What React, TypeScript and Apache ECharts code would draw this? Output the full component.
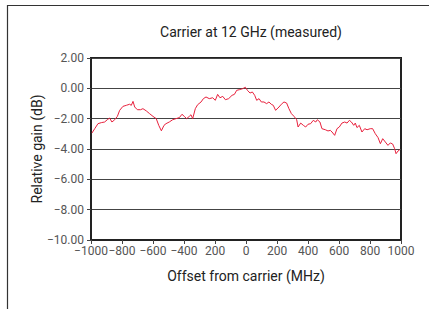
import React, { useEffect, useRef } from "react";
import * as echarts from "echarts";

const offsetsMHz = [
  -994, -976, -955, -933, -912, -895, -880, -865, -847, -830, -815, -794, -772, -751, -740, -729, -718, -701, -680, -665,
  -643, -622, -600, -579, -563, -546, -529, -516, -495, -473, -452, -430, -413, -398, -383, -366, -355, -344, -327, -312,
  -290, -275, -258, -237, -215, -198, -183, -168, -150, -133, -112, -90, -75, -60, -43, -21, -4, 9, 26, 41,
  56, 69, 84, 99, 116, 133, 148, 163, 176, 191, 213, 228, 245, 262, 277, 293, 310, 327, 336, 353,
  370, 385, 400, 417, 434, 450, 460, 477, 490, 512, 529, 544, 555, 572, 587, 602, 619, 637, 652, 667,
  680, 695, 705, 716, 731, 748, 766, 781, 802, 817, 834, 852, 867, 882, 899, 916, 931, 946, 959, 968,
  981, 992,
];

const gainDb = [
  -2.95, -2.66, -2.33, -2.26, -2.22, -2.07, -1.96, -2.22, -2.07, -1.85, -1.45, -1.19, -1.12, -1.05, -1.12, -0.86, -1.23, -1.41, -1.41, -1.34,
  -1.49, -1.67, -1.85, -2.0, -2.44, -2.8, -2.44, -2.33, -2.22, -2.07, -2.0, -1.93, -1.71, -1.85, -2.0, -1.85, -1.74, -2.0, -1.34, -1.08,
  -0.9, -0.68, -0.57, -0.68, -0.62, -0.79, -0.4, -0.62, -0.53, -0.75, -0.68, -0.46, -0.4, -0.13, -0.09, -0.02, 0.07, -0.13, -0.31, -0.24,
  -0.46, -0.79, -0.68, -0.9, -0.9, -1.01, -0.9, -1.05, -1.12, -1.45, -1.23, -1.05, -0.9, -0.97, -1.34, -1.67, -1.85, -2.07, -2.55, -2.29,
  -2.44, -2.55, -2.37, -2.33, -2.11, -2.22, -2.07, -2.22, -2.66, -2.73, -2.81, -2.77, -2.88, -3.1, -2.66, -2.55, -2.29, -2.22, -2.29, -2.11,
  -2.22, -2.44, -2.29, -2.59, -2.44, -2.88, -2.66, -2.73, -2.66, -2.66, -2.99, -3.25, -3.65, -3.32, -3.54, -3.76, -3.6, -3.67, -3.98, -4.31,
  -4.13, -4.05,
];

const xTickLabels: Record<string, string> = {
  "-1000": "\u22121000",
  "-800": "\u2212800",
  "-600": "\u2212600",
  "-400": "\u2212400",
  "-200": "200",
  "0": "0",
  "200": "200",
  "400": "400",
  "600": "600",
  "800": "800",
  "1000": "1000",
};

const yTickLabels: Record<string, string> = {
  "2": "2.00",
  "0": "0.00",
  "-2": "\u22122.00",
  "-4": "\u22124.00",
  "-6": "\u22126.00",
  "-8": "\u22128.00",
  "-10": "\u221210.00",
};

const titleText = "Carrier at 12 GHz (measured)";
const xName = "Offset from carrier (MHz)";
const yName = "Relative gain (dB)";

export default function App() {
  const ref = useRef<HTMLDivElement>(null);
  useEffect(() => {
    document.body.style.margin = "0";
    if (!ref.current) return;
    const chart = echarts.init(ref.current, null, { renderer: "svg" });
    const font = "Roboto";
    chart.setOption({
      animation: false,
      backgroundColor: "#ffffff",
      title: {
        text: titleText,
        left: 246,
        top: 20,
        textAlign: "center",
        textStyle: { fontFamily: font, fontSize: 14, fontWeight: "normal", color: "#222" },
      },
      graphic: [
        {
          type: "rect",
          shape: { x: 7.5, y: 5.5, width: 440, height: 320 },
          style: { fill: "none", stroke: "#333", lineWidth: 1.2 },
          silent: true,
        },
      ],
      grid: {
        left: 91,
        top: 58,
        width: 310,
        height: 182,
        show: true,
        borderColor: "#222",
        borderWidth: 2,
        backgroundColor: "transparent",
      },
      xAxis: {
        type: "value",
        min: -1000,
        max: 1000,
        interval: 200,
        name: xName,
        nameLocation: "middle",
        nameGap: 29,
        nameMoveOverlap: false,
        nameTextStyle: { fontFamily: font, fontSize: 14, color: "#222" },
        axisLine: { show: true, onZero: false, lineStyle: { color: "#222", width: 2 } },
        axisTick: { show: true, length: 4, lineStyle: { color: "#444", width: 1 } },
        axisLabel: {
          fontFamily: font,
          fontSize: 12,
          color: "#555",
          margin: 5,
          formatter: (v: number) => xTickLabels[String(v)] ?? String(v),
        },
        splitLine: { show: false },
      },
      yAxis: {
        type: "value",
        min: -10,
        max: 2,
        interval: 2,
        name: yName,
        nameLocation: "middle",
        nameGap: 47,
        nameMoveOverlap: false,
        nameRotate: 90,
        nameTextStyle: { fontFamily: font, fontSize: 14, color: "#222" },
        axisLine: { show: true, onZero: false, lineStyle: { color: "#222", width: 2 } },
        axisTick: { show: true, length: 4, lineStyle: { color: "#444", width: 1 } },
        axisLabel: {
          fontFamily: font,
          fontSize: 12,
          color: "#555",
          margin: 7,
          formatter: (v: number) => yTickLabels[String(v)] ?? String(v),
        },
        splitLine: { show: true, lineStyle: { color: "#444", width: 1.2 } },
      },
      series: [
        {
          type: "line",
          data: offsetsMHz.map((x, i) => [x, gainDb[i]]),
          showSymbol: false,
          symbol: "none",
          lineStyle: { color: "#e8213d", width: 1 },
          z: 3,
        },
      ],
    });
    return () => chart.dispose();
  }, []);
  return <div ref={ref} style={{ width: 429, height: 309 }} />;
}
